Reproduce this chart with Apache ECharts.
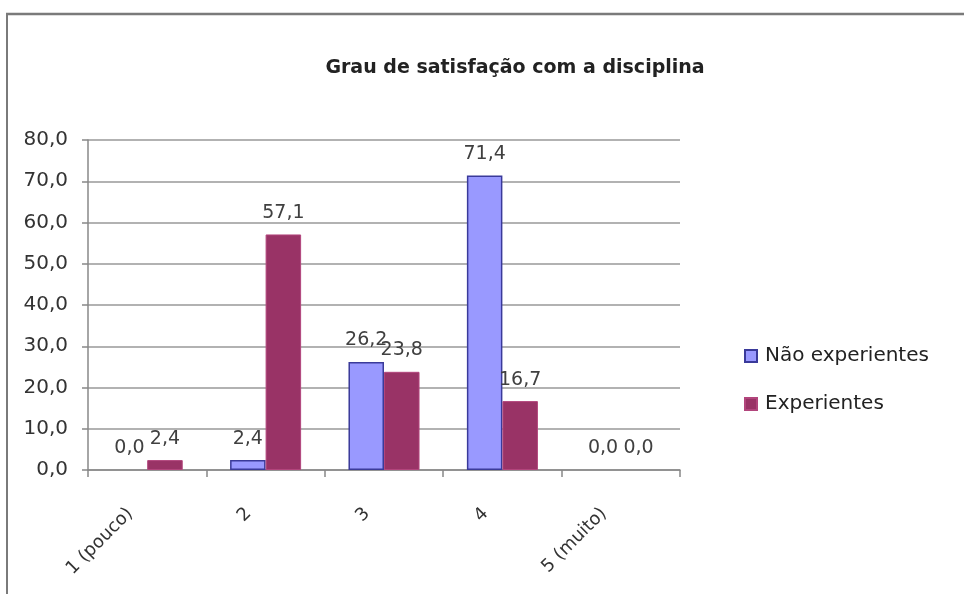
<!DOCTYPE html>
<html>
<head>
<meta charset="utf-8">
<script src="https://cdn.jsdelivr.net/npm/echarts@6/dist/echarts.min.js"></script>
<style>
  html, body { margin: 0; padding: 0; background: #fff; }
  #chart { width: 964px; height: 594px; }
</style>
</head>
<body>
<div id="chart"></div>
<script>
const categories = ['1 (pouco)', '2', '3', '4', '5 (muito)'];
const seriesNames = ['Não experientes', 'Experientes'];
const naoExperientes = [0.0, 2.4, 26.2, 71.4, 0.0];
const experientes = [2.4, 57.1, 23.8, 16.7, 0.0];

const fontFamily = '"DejaVu Sans", sans-serif';
const comma = v => Number(v).toFixed(1).replace('.', ',');

// zero bars get no outline, like the original
const withBorder = (values, width) => values.map(v => ({
  value: v,
  itemStyle: { borderWidth: v === 0 ? 0 : width }
}));

const chart = echarts.init(document.getElementById('chart'));

const labelStyle = {
  show: true,
  position: 'top',
  distance: 12,
  fontFamily: fontFamily,
  fontSize: 19,
  color: '#404040',
  formatter: p => comma(p.value)
};

chart.setOption({
  animation: false,
  backgroundColor: '#fff',
  title: {
    text: 'Grau de satisfação com a disciplina',
    left: 510,
    textAlign: 'center',
    top: 54,
    textStyle: {
      fontFamily: fontFamily,
      fontSize: 19,
      fontWeight: 'bold',
      color: '#222'
    }
  },
  legend: {
    orient: 'vertical',
    left: 739,
    top: 341,
    itemWidth: 12,
    itemHeight: 12,
    itemGap: 28,
    icon: 'rect',
    textStyle: {
      fontFamily: fontFamily,
      fontSize: 20,
      color: '#222',
      padding: [0, 0, 0, 3]
    },
    data: seriesNames
  },
  grid: {
    left: 88,
    right: 284,
    top: 140,
    bottom: 124
  },
  xAxis: {
    type: 'category',
    data: categories,
    axisLine: { lineStyle: { color: '#888', width: 1.5 } },
    axisTick: { show: true, length: 7, lineStyle: { color: '#888', width: 1.5 } },
    axisLabel: {
      rotate: 45,
      interval: 0,
      margin: 24,
      padding: [0, 24, 0, 0],
      fontFamily: fontFamily,
      fontSize: 18,
      color: '#333'
    }
  },
  yAxis: {
    type: 'value',
    min: 0,
    max: 80,
    interval: 10,
    axisLine: { show: true, lineStyle: { color: '#888', width: 1.5 } },
    axisTick: { show: true, length: 6, lineStyle: { color: '#888', width: 1.5 } },
    axisLabel: {
      margin: 20,
      fontFamily: fontFamily,
      fontSize: 20,
      color: '#333',
      formatter: v => comma(v)
    },
    splitLine: { lineStyle: { color: '#999', width: 1.5 } }
  },
  graphic: [
    {
      type: 'line',
      shape: { x1: 6, y1: 14, x2: 964, y2: 14 },
      style: { stroke: '#7a7a7a', lineWidth: 2.5 }
    },
    {
      type: 'line',
      shape: { x1: 7, y1: 14, x2: 7, y2: 594 },
      style: { stroke: '#7a7a7a', lineWidth: 2 }
    }
  ],
  series: [
    {
      name: seriesNames[0],
      type: 'bar',
      data: withBorder(naoExperientes, 1.5),
      barGap: '0%',
      barCategoryGap: '40%',
      itemStyle: { color: '#9999FF', borderColor: '#3a3a9a', borderWidth: 1.5 },
      label: labelStyle
    },
    {
      name: seriesNames[1],
      type: 'bar',
      data: withBorder(experientes, 1),
      itemStyle: { color: '#993366', borderColor: '#b2457c', borderWidth: 1 },
      label: labelStyle
    }
  ]
});
</script>
</body>
</html>
